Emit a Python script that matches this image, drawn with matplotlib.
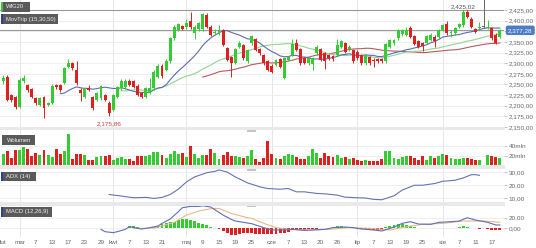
import matplotlib
matplotlib.use('Agg')
import matplotlib.pyplot as plt
import numpy as np
import pandas as pd
from matplotlib.patches import Rectangle

plt.rcParams['font.family'] = ['Liberation Sans', 'DejaVu Sans']

# daily candles, WIG20 (23 Feb - 21 Aug), index 118 is a bad print (gray spike)
opens = [2257, 2268, 2225, 2220, 2198, 2257, 2249, 2239, 2218, 2202,
         2220, 2202, 2206, 2249, 2249, 2253, 2292, 2300, 2284, 2236,
         2221, 2241, 2220, 2214, 2218, 2225, 2207, 2190, 2220, 2241,
         2243, 2259, 2257, 2247, 2229, 2221, 2231, 2241, 2268, 2294,
         2284, 2304, 2359, 2378, 2387, 2384, 2398, 2370, 2380, 2380,
         2413, 2386, 2370, 2370, 2378, 2335, 2315, 2301, 2339, 2343,
         2304, 2347, 2356, 2333, 2319, 2304, 2294, 2296, 2309, 2265,
         2308, 2319, 2347, 2333, 2312, 2300, 2298, 2323, 2333, 2323,
         2319, 2317, 2319, 2339, 2347, 2333, 2331, 2327, 2319, 2300,
         2314, 2308, 2309, 2309, 2304, 2339, 2347, 2359, 2369, 2366,
         2382, 2364, 2351, 2347, 2348, 2355, 2362, 2362, 2378, 2392,
         2370, 2370, 2386, 2390, 2421, 2405, 2380, 2382, 2385, 2382,
         2382, 2366, 2362]
closes = [2265, 2214, 2214, 2196, 2261, 2265, 2237, 2221, 2206, 2218,
          2194, 2206, 2247, 2243, 2236, 2288, 2301, 2288, 2254, 2229,
          2241, 2237, 2194, 2229, 2247, 2214, 2182, 2225, 2243, 2259,
          2259, 2249, 2245, 2225, 2220, 2241, 2241, 2280, 2294, 2270,
          2306, 2359, 2386, 2392, 2380, 2395, 2384, 2386, 2394, 2416,
          2386, 2366, 2374, 2378, 2343, 2308, 2301, 2333, 2347, 2312,
          2331, 2364, 2331, 2323, 2300, 2284, 2280, 2308, 2292, 2312,
          2314, 2345, 2331, 2300, 2301, 2312, 2312, 2339, 2308, 2304,
          2312, 2309, 2343, 2351, 2327, 2339, 2304, 2312, 2300, 2319,
          2301, 2304, 2304, 2304, 2345, 2355, 2355, 2377, 2377, 2378,
          2362, 2345, 2339, 2341, 2364, 2366, 2351, 2377, 2390, 2370,
          2374, 2382, 2392, 2421, 2409, 2386, 2374, 2386, 2385, 2384,
          2359, 2348, 2377.28]
highs = [2272, 2272, 2228, 2223, 2265, 2272, 2252, 2241, 2220, 2221,
         2222, 2209, 2250, 2252, 2252, 2291, 2311, 2303, 2304, 2241,
         2244, 2249, 2223, 2232, 2249, 2228, 2210, 2228, 2247, 2262,
         2262, 2262, 2260, 2250, 2232, 2244, 2264, 2283, 2297, 2297,
         2309, 2362, 2390, 2394, 2390, 2405, 2421, 2389, 2397, 2418,
         2418, 2389, 2380, 2390, 2381, 2338, 2318, 2336, 2351, 2346,
         2334, 2367, 2360, 2336, 2322, 2307, 2297, 2311, 2312, 2314,
         2317, 2358, 2358, 2336, 2315, 2315, 2315, 2342, 2336, 2326,
         2322, 2320, 2356, 2354, 2350, 2342, 2334, 2330, 2322, 2322,
         2317, 2312, 2312, 2312, 2348, 2358, 2358, 2380, 2380, 2386,
         2388, 2367, 2354, 2350, 2367, 2370, 2366, 2380, 2393, 2400,
         2378, 2385, 2395, 2425.02, 2424, 2409, 2382, 2397, 2470, 2402,
         2386, 2370, 2380]
lows = [2252, 2210, 2209, 2193, 2195, 2253, 2233, 2218, 2202, 2199,
        2170, 2199, 2203, 2240, 2232, 2250, 2289, 2285, 2249, 2210,
        2218, 2234, 2190, 2210, 2214, 2210, 2175.86, 2187, 2217, 2238,
        2240, 2246, 2242, 2222, 2217, 2218, 2228, 2238, 2265, 2266,
        2281, 2300, 2355, 2375, 2377, 2381, 2381, 2356, 2376, 2376,
        2383, 2363, 2367, 2367, 2340, 2304, 2268, 2298, 2336, 2308,
        2300, 2343, 2328, 2320, 2296, 2281, 2276, 2293, 2289, 2262,
        2304, 2316, 2328, 2296, 2298, 2296, 2283, 2320, 2304, 2286,
        2308, 2306, 2316, 2336, 2324, 2329, 2300, 2308, 2296, 2296,
        2296, 2292, 2300, 2300, 2300, 2336, 2343, 2355, 2365, 2363,
        2359, 2342, 2336, 2328, 2345, 2351, 2339, 2359, 2375, 2367,
        2361, 2367, 2383, 2386, 2406, 2383, 2370, 2379, 2383, 2380,
        2355, 2345, 2359]

# volume in mln
volume = [25, 30, 17, 32, 32, 39, 35, 21, 27, 23,
          33, 23, 19, 35, 25, 30, 65, 15, 25, 24,
          23, 13, 13, 19, 21, 21, 23, 13, 16, 18,
          15, 15, 11, 21, 20, 20, 23, 29, 28, 23,
          17, 24, 30, 25, 27, 18, 40, 25, 17, 23,
          22, 35, 27, 15, 23, 28, 20, 20, 19, 17,
          21, 32, 14, 8, 17, 50, 25, 17, 15, 20,
          25, 23, 19, 15, 15, 21, 35, 27, 17, 27,
          20, 19, 23, 16, 19, 15, 17, 12, 10, 13,
          11, 11, 11, 15, 30, 31, 17, 15, 18, 21,
          21, 16, 13, 20, 13, 21, 16, 21, 25, 23,
          17, 15, 15, 17, 17, 15, 13, 12, np.nan, 23,
          21, 19, 17]

# ADX(14), read at sample days
adx_day = [26, 29, 32, 35, 37, 39, 41, 43, 45, 47, 50, 52, 53, 55, 57, 60,
           63, 65, 68, 70, 72, 74, 77, 79, 82, 84, 87, 89, 91, 93, 94, 96,
           98, 101, 103, 106, 108, 111, 113, 115, 116, 117]
adx_val = [13, 11.8, 10.5, 10.8, 10, 10.8, 13, 17, 22.5, 26.3, 29.5, 30.5, 31.6, 30, 26.3, 21.8,
           18.8, 17.5, 17, 17.5, 15, 15, 13.8, 13.5, 12.5, 11, 10.5, 10.3, 9.3, 9, 10, 12,
           16.3, 20, 20, 21.3, 23, 23.8, 25.5, 28, 28, 27.5]

# MACD(12,26,9)
macd_day = [24, 25, 27, 28, 30, 31, 33, 34, 36, 38, 39, 41, 43, 44, 46, 48, 49, 51,
            52, 54, 56, 57, 59, 61, 62, 64, 66, 69, 71, 74, 76, 79, 81, 84, 86, 88,
            91, 93, 96, 98, 100, 102, 105, 107, 110, 112, 114, 116, 119, 121, 122]
macd_val = [-1.9, -6.3, -8.1, -6.3, -1.9, 3.1, 0, -1.3, 1.3, 4.4, 9.4, 17.5, 31.3, 38.8, 41.3, 41.3, 42.5, 40,
            35, 25, 16.9, 13.8, 11.3, 8.8, 6.3, 1.3, -3.1, -3.1, -1.9, -3.8, -3.1, -1.9, 1.3, 2.5, 1.3, -1.3,
            -3.1, -5, 2.5, 9.4, 12.5, 8.1, 7.5, 11.3, 12.5, 13.8, 20, 15.6, 11.3, 6.3, 6.3]
signal_day = [32, 35, 37, 42, 45, 48, 51, 53, 56, 60, 61, 64, 67, 70, 75, 80,
              85, 90, 95, 99, 103, 108, 113, 118, 122]
signal_val = [0, 0, 0.5, 11.3, 25, 32.5, 37, 37.5, 28.1, 20, 18.8, 9.4, 1.3, -1.9, -3.1, -1.9,
              1.3, 0, -3.1, 3.1, 7.5, 9.4, 13.8, 13.8, 11.3]
nan = np.nan
hist = [nan] * 31 + [
    3.5, 4.4, 3.0, 0.8, 0.5, 0.8, 3.0, 4.4, 7.5,
    9.4, 11.3, 12.5, 15.6, 16.9, 16.9, 15.6, 13.8, 10.6, 8.8,
    6.3, 3.1, 1.0, -0.5, -5.0, -9.4, -12.5, -12.5, -11.3, -9.4,
    -8.1, -9.4, -10.6, -11.3, -11.3, -11.3, -11.3, -10.6, -9.4, -8.1,
    -6.3, -3.8, -2.5, -2.5, -3.0, -1.5, -0.5, -1.0, 0.3, 0.5,
    1.0, 1.9, 4.4, 4.4, 3.1, 1.9, 0.5, -1.0, -1.9, -1.9,
    -2.5, -3.1, -3.1, -2.5, 1.9, 4.4, 6.3, 7.5, 7.5, 6.3,
    4.4, 2.5, 1.0, 0.5, 0.5, 1.0, 1.0, 0.5, 1.0, 1.5,
    1.5, 1.0, 2.0, 4.4, 3.1, 1.0, 0.5, -0.5, nan, -1.0,
    -3.1, -3.8, -3.8]

# date axis
tick_pos = [4, 8, 12, 16, 20, 24, 27, 31, 35, 39, 45, 49, 53, 57, 61,
            66, 70, 74, 78, 82, 87, 91, 95, 99, 103, 108, 112, 116, 120]
tick_lab = ['mar', '7', '13', '17', '23', '29', 'kwi', '7', '13', '21', 'maj', '9', '15', '19', '25',
            'cze', '7', '13', '20', '26', 'lip', '7', '13', '19', '25', 'sie', '7', '11', '17']
month_pos = [4, 27, 45, 66, 87, 108]

GREEN = '#33cc33'
RED = '#dd2020'
GRAY = '#666666'

o = np.array(opens, float)
c = np.array(closes, float)
hi = np.array(highs, float)
lo = np.array(lows, float)
x = np.arange(len(c))
col = np.where(c > o, GREEN, np.where(c < o, RED, GRAY))

W, H = 536, 248
fig = plt.figure(figsize=(W / 100, H / 100), dpi=100)


def rect(x0, y0, x1, y1):
    return [x0 / W, 1 - y1 / H, (x1 - x0) / W, (y1 - y0) / H]


def style(ax, ylim, ticks, labels):
    ax.set_xlim(-0.81, 123.02)
    ax.set_ylim(*ylim)
    for s in ax.spines.values():
        s.set_visible(False)
    ax.yaxis.tick_right()
    ax.set_yticks(ticks)
    ax.set_yticklabels(labels)
    ax.tick_params(axis='y', length=2, width=0.5, color='#aaaaaa', pad=1.5,
                   labelsize=4.6, labelcolor='#666666')
    ax.tick_params(axis='x', length=0, labelbottom=False)
    ax.grid(axis='y', color='#ececec', lw=0.6)
    ax.set_axisbelow(True)
    for m in month_pos:
        ax.axvline(m, color='#e6e6e6', lw=0.7, zorder=0)


def fmt(v):
    return f"{v:,.2f}".replace('.', ',')


# price panel
ax_p = fig.add_axes(rect(0, 0, 504, 127))
price_ticks = np.arange(2150, 2426, 25)
style(ax_p, (2150, 2448.5), price_ticks, [fmt(v) for v in price_ticks])

s = pd.Series(c)
ax_p.plot(x, s.rolling(50).mean(), color='#b85a5e', lw=0.8, zorder=2)
ax_p.plot(x, s.rolling(30).mean(), color='#8fd68f', lw=0.8, zorder=2)
ax_p.plot(x, s.rolling(15).mean(), color='#5b6bb5', lw=0.8, zorder=2)

ax_p.vlines(x, lo, hi, colors=col, lw=0.7, zorder=3)
ax_p.bar(x, np.maximum(np.abs(c - o), 1.5), bottom=np.minimum(o, c), width=0.72,
         color=col, zorder=3)

ax_p.axhline(hi[113], color='#9a9a9a', lw=0.8, zorder=1)
ax_p.axhline(c[-1], color='#9a9a9a', lw=0.8, zorder=1)

ax_p.annotate(fmt(lo[26]), (26, lo[26]), xytext=(0, -5), textcoords='offset pixels',
              ha='center', va='top', fontsize=4.6, color='#c83c3c')
ax_p.annotate(fmt(hi[113]), (113, hi[113]), xytext=(0, 1), textcoords='offset pixels',
              ha='center', va='bottom', fontsize=4.6, color='#555555')
ax_p.annotate(fmt(c[-1]), (1.0, c[-1]), xycoords=('axes fraction', 'data'),
              xytext=(4, 0), textcoords='offset pixels', ha='left', va='center',
              fontsize=4.6, color='white', annotation_clip=False, zorder=10,
              bbox=dict(boxstyle='round,pad=0.35,rounding_size=0.3', fc='#4d7cc4', ec='none'))

# volume panel
ax_v = fig.add_axes(rect(0, 130, 504, 165))
style(ax_v, (2, 72), [20, 40], ['20mln', '40mln'])
ax_v.bar(x, volume, width=0.72, color=col)

# ADX panel
ax_a = fig.add_axes(rect(0, 169, 504, 202))
style(ax_a, (7.3, 32.3), [10, 20, 30], [fmt(v) for v in [10, 20, 30]])
ax_a.plot(adx_day, adx_val, color='#6673b3', lw=0.8)

# MACD panel
ax_m = fig.add_axes(rect(0, 205.5, 504, 237))
style(ax_m, (-16.3, 43), [0, 20], [fmt(v) for v in [0, 20]])
h = np.array(hist)
ax_m.bar(x, h, width=0.72, color=np.where(h >= 0, GREEN, RED), zorder=2)
ax_m.plot(signal_day, signal_val, color='#e9b98a', lw=0.8, zorder=3)
ax_m.plot(macd_day, macd_val, color='#5f6fb5', lw=0.8, zorder=3)
ax_m.set_xticks(tick_pos)
ax_m.set_xticklabels(tick_lab)
ax_m.tick_params(axis='x', labelbottom=True, labelsize=4.6, labelcolor='#666666', pad=2.5)
# February label sits at the very left edge
ax_m.text(0.0, -0.08, 'lut', transform=ax_m.transAxes, ha='left', va='top',
          fontsize=4.6, color='#666666')

# panel separators with drag handles
for y0, y1 in [(127, 130), (165, 169), (202, 205.5)]:
    fig.add_artist(Rectangle((0, 1 - y1 / H), 505 / W, (y1 - y0) / H,
                             transform=fig.transFigure, fc='#e9e9e9', ec='none', zorder=4))
    fig.add_artist(Rectangle((247 / W, 1 - (y1 + 1.5) / H), 9 / W, 1.5 / H,
                             transform=fig.transFigure, fc='#c4c4c4', ec='none', zorder=4))

# indicator name tags
tags = [(1, 1.5, 30, 11.5, 'WIG20', '#3fc43f'),
        (1, 14.5, 58, 24, 'MovTrip (15,30,50)', '#2b3fa0'),
        (2, 135, 35, 145, 'Wolumen', None),
        (1, 172, 36, 181, 'ADX (14)', '#2b3fa0'),
        (1, 207, 52, 217, 'MACD (12,26,9)', '#2b3fa0')]
for x0, y0, x1, y1, label, stripe in tags:
    fig.add_artist(Rectangle((x0 / W, 1 - y1 / H), (x1 - x0) / W, (y1 - y0) / H,
                             transform=fig.transFigure, fc='#5a5a5a', ec='none', zorder=5))
    if stripe:
        fig.add_artist(Rectangle((x0 / W, 1 - y1 / H), 1.5 / W, (y1 - y0) / H,
                                 transform=fig.transFigure, fc=stripe, ec='none', zorder=6))
    fig.text((x0 + 5) / W, 1 - (y0 + y1) / 2 / H, label, color='#f0f0f0', fontsize=4.2,
             ha='left', va='center', zorder=7)

fig.savefig('out.png', dpi=100)
